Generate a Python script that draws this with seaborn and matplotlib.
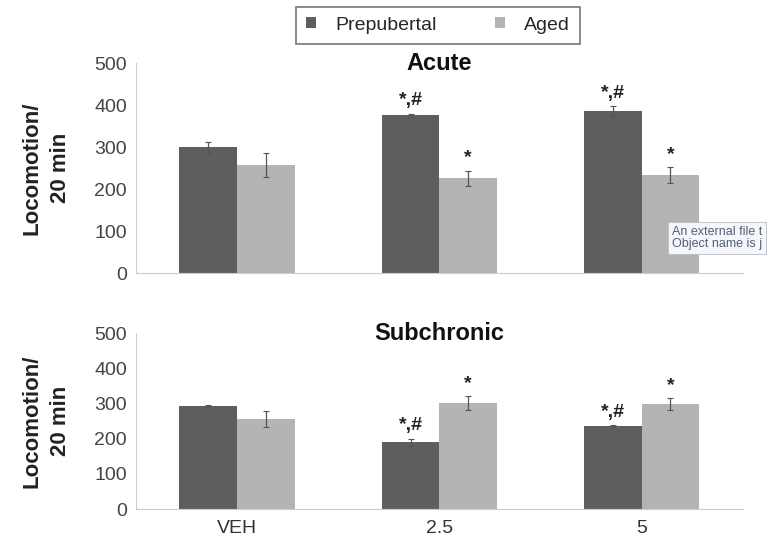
import pandas as pd
import seaborn as sb
import matplotlib.pyplot as plt
from matplotlib.patches import Patch

# ##############################################################################
# data
doses = ['VEH', '2.5', '5']
groups = ['Prepubertal', 'Aged']

acute_prep = [300, 376, 386]
acute_prep_err = [13, 4, 11]
acute_aged = [257, 226, 233]
acute_aged_err = [28, 18, 19]
acute_marks_prep = ['', '*,#', '*,#']
acute_marks_aged = ['', '*', '*']

sub_prep = [293, 190, 236]
sub_prep_err = [3, 10, 3]
sub_aged = [256, 301, 298]
sub_aged_err = [22, 20, 18]
sub_marks_prep = ['', '*,#', '*,#']
sub_marks_aged = ['', '*', '*']

colors = {'Prepubertal': '#5e5e5e', 'Aged': '#b4b4b4'}


# ##############################################################################
def make_df(prep, aged):
  rows = []
  for d, p, a in zip(doses, prep, aged):
    rows.append({'Dose': d, 'Group': 'Prepubertal', 'Loco': p})
    rows.append({'Dose': d, 'Group': 'Aged', 'Loco': a})
  return pd.DataFrame(rows)


def draw_panel(ax, prep, prep_err, aged, aged_err, marks_prep, marks_aged, title, show_x):
  df = make_df(prep, aged)
  sb.barplot(data=df, x='Dose', y='Loco', hue='Group', hue_order=groups,
             order=doses, palette=colors, errorbar=None, width=0.57,
             saturation=1, linewidth=0, legend=False, ax=ax)

  errs = [prep_err, aged_err]
  marks = [marks_prep, marks_aged]
  bar_conts = list(ax.containers)  # copy: errorbar() adds containers too
  for i, cont in enumerate(bar_conts):
    for j, bar in enumerate(cont):
      xc = bar.get_x() + bar.get_width() / 2
      h = bar.get_height()
      ax.errorbar(xc, h, yerr=errs[i][j], color='#555555', lw=0.9,
                  capsize=2.5, capthick=0.8)
      if marks[i][j]:
        ax.annotate(marks[i][j], (xc, h + errs[i][j]), xytext=(0, 3),
                    textcoords='offset points', ha='center', va='bottom',
                    fontsize=14, fontweight='bold', color='#222222')

  ax.set_ylim(0, 500)
  ax.set_xlim(-0.5, 2.5)
  ax.set_yticks([0, 100, 200, 300, 400, 500])
  ax.set_xticks([0.5, 1.5, 2.5], minor=True)
  ax.tick_params(axis='x', which='minor', length=3, color='#cccccc')
  ax.tick_params(axis='x', which='major', length=0, labelsize=14, colors='#333333', pad=8)
  ax.tick_params(axis='y', length=3, color='#cccccc', labelsize=14, labelcolor='#444444')
  if not show_x:
    ax.set_xticklabels([])
  ax.set_xlabel('')
  ax.set_ylabel('Locomotion/\n20 min', fontsize=16, fontweight='bold',
                color='#222222', labelpad=17, linespacing=1.45)
  ax.text(0.5, 1.0, title, transform=ax.transAxes, ha='center', va='center',
          fontsize=17, fontweight='bold', color='#111111')
  for s in ['top', 'right']:
    ax.spines[s].set_visible(False)
  for s in ['left', 'bottom']:
    ax.spines[s].set_color('#cccccc')
    ax.spines[s].set_linewidth(0.8)


# ##############################################################################
sb.set_style('white')
plt.rcParams['font.family'] = ['Liberation Sans', 'DejaVu Sans']

fig = plt.figure(figsize=(7.7, 5.44), dpi=100)
ax1 = fig.add_axes([0.1766, 0.498, 0.788, 0.386])
ax2 = fig.add_axes([0.1766, 0.0643, 0.788, 0.3235])

draw_panel(ax1, acute_prep, acute_prep_err, acute_aged, acute_aged_err,
           acute_marks_prep, acute_marks_aged, 'Acute', False)
draw_panel(ax2, sub_prep, sub_prep_err, sub_aged, sub_aged_err,
           sub_marks_prep, sub_marks_aged, 'Subchronic', True)

# legend
handles = [Patch(facecolor=colors[g], edgecolor='none', label=g) for g in groups]
fig.legend(handles=handles, loc='upper center', bbox_to_anchor=(0.569, 0.987),
           ncol=2, fontsize=14, frameon=True, fancybox=False, edgecolor='#555555',
           handlelength=0.5, handleheight=0.5, handletextpad=1.0,
           columnspacing=3.0, borderpad=0.5, borderaxespad=0)
fig.legends[0].get_frame().set_linewidth(1.2)

# stray tooltip captured in the source image
ax1.text(2.15, 0.167, 'An external file t\nObject name is j', transform=ax1.get_xaxis_transform(),
         fontsize=9, color='#556077', va='center', ha='left', linespacing=1.1,
         bbox=dict(boxstyle='square,pad=0.3', facecolor='#f4f6fa', edgecolor='#bbbbcc', lw=0.6))

fig.savefig('out.png', dpi=100)
plt.close('all')
